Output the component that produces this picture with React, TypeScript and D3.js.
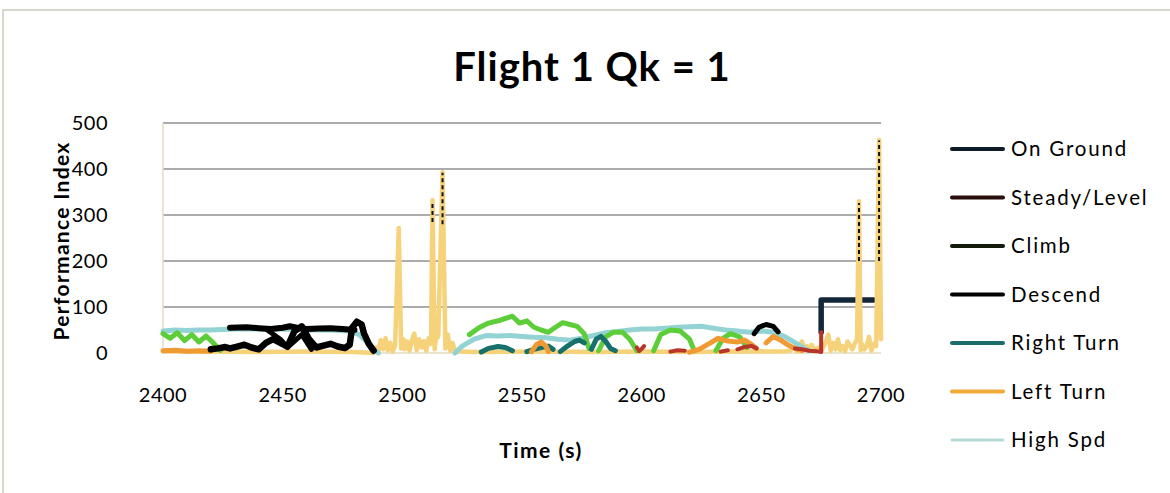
import React from "react";
import * as d3 from "d3";

const W = 1170, H = 493;
const title = "Flight 1 Qk = 1";
const xLabel = "Time (s)";
const yLabel = "Performance Index";
const xTicks = [2400, 2450, 2500, 2550, 2600, 2650, 2700];
const yTicks = [0, 100, 200, 300, 400, 500];

// Series data: times and values (null = gap)
const onGroundT = [2675, 2675, 2697];
const onGroundV = [45, 115, 115];

const steadyT = [2598, 2599, 2600, 2601, 2602, 2612, 2615, 2618, 2619, 2633, 2636, 2637, 2640, 2643, 2646, 2648, 2649, 2664, 2667, 2670, 2673, 2675, 2675];
const steadyV = [12, 4, 9, 15, null, 3, 6, 5, null, 3, 6, null, 8, 13, 15, 10, null, 10, 8, 5, 4, 2, 45];

const climbT = [2400, 2403, 2406, 2409, 2412, 2415, 2418, 2421, 2424, 2426,
  2528, 2532, 2536, 2540, 2543, 2546, 2549, 2552, 2555, 2558, 2561, 2564, 2567, 2570, 2573, 2576, 2578, 2579,
  2582, 2585, 2588, 2592, 2595, 2598, 2599,
  2605, 2608, 2612, 2616, 2620, 2622, 2623,
  2631, 2634, 2637, 2641, 2644, 2646];
const climbV = [42, 32, 44, 27, 40, 24, 37, 22, 6, null,
  40, 55, 65, 70, 75, 80, 65, 70, 56, 50, 45, 56, 66, 62, 58, 42, 10, null,
  5, 35, 45, 45, 30, 5, null,
  5, 40, 50, 48, 30, 5, null,
  5, 32, 42, 35, 12, null];

const descendLowT = [2420, 2423, 2426, 2428, 2431, 2434, 2437, 2440, 2443, 2446, 2449, 2452, 2455, 2458, 2461, 2464, 2467, 2470, 2473, 2476, 2478, 2479, 2481, 2483, 2484, 2486, 2488];
const descendLowV = [8, 10, 13, 10, 14, 18, 12, 8, 22, 30, 22, 14, 48, 58, 30, 12, 16, 20, 14, 11, 18, 55, 68, 62, 42, 20, 5];
const descendHighT = [2428, 2435, 2440, 2445, 2450, 2453, 2456, 2460, 2465, 2470, 2475, 2480];
const descendHighV = [55, 56, 54, 52, 55, 58, 55, 52, 53, 54, 52, 50];
const descendCrossT = [2443, 2449, 2452, 2458, 2462];
const descendCrossV = [52, 30, 12, 40, 8];
const descendLateT = [2647, 2649, 2652, 2655, 2657];
const descendLateV = [42, 56, 62, 58, 46];
const descendSpikeT = [2512.6, 2512.6, 2513, 2516.8, 2516.8, 2517, 2690.8, 2690.8, 2691, 2699.2, 2699.2];
const descendSpikeV = [285, 330, null, 280, 392, null, 200, 326, null, 200, 462];

const rightT = [2533, 2536, 2540, 2543, 2546, 2547, 2552, 2555, 2558, 2561, 2563, 2564, 2566, 2569, 2572, 2574, 2576, 2577, 2579, 2581, 2583, 2585, 2587, 2589];
const rightV = [2, 10, 14, 12, 5, null, 3, 8, 12, 15, 8, null, 3, 15, 25, 28, 22, null, 8, 30, 36, 25, 10, 5];

const leftT = [2400, 2405, 2410, 2415, 2420, 2421, 2554, 2556, 2558, 2560, 2561, 2562,
  2620, 2624, 2628, 2632, 2636, 2640, 2643, 2646, 2648, 2649,
  2652, 2655, 2658, 2661, 2664, 2667];
const leftV = [5, 6, 4, 5, 4, null, 3, 18, 24, 15, 3, null,
  2, 8, 20, 32, 26, 24, 28, 18, 10, null,
  22, 36, 28, 18, 10, 5];

const highSpdT = [2400, 2405, 2410, 2415, 2420, 2425, 2430, 2440, 2450, 2460, 2470, 2478, 2482, 2485, 2488, 2490, 2491,
  2522, 2525, 2530, 2535, 2540, 2545, 2550, 2555, 2560, 2565, 2570, 2575, 2580, 2585, 2590, 2595, 2600, 2605, 2610, 2615, 2620, 2625, 2630, 2635, 2640, 2645, 2650, 2655, 2660, 2665, 2668, 2670];
const highSpdV = [48, 50, 49, 50, 50, 51, 52, 52, 52, 50, 50, 48, 40, 25, 8, 0, null,
  0, 15, 30, 38, 37, 38, 36, 34, 33, 30, 28, 32, 38, 44, 47, 50, 52, 52, 54, 56, 57, 58, 54, 50, 48, 45, 48, 45, 35, 20, 10, 5];

// unlabelled light yellow series (spikes)
const otherT = [2400, 2420, 2440, 2460, 2480, 2488, 2489, 2490, 2491, 2492, 2493, 2494, 2495, 2496, 2497, 2498.5, 2499.5, 2500.5, 2501, 2502, 2503, 2504, 2505, 2506, 2507, 2508, 2509, 2510, 2511, 2512, 2512.6, 2513.5, 2514, 2515, 2516.8, 2518, 2519, 2520, 2521, 2522,
  2530, 2560, 2580, 2600, 2620, 2640, 2660, 2662, 2664, 2665, 2666, 2667, 2668, 2669, 2670, 2671, 2672, 2674, 2675, 2677, 2678, 2679, 2680, 2681, 2682, 2683, 2684, 2685, 2686, 2688, 2689, 2690, 2690.8, 2691.5, 2692, 2693, 2694, 2695, 2696, 2697, 2698, 2699.2, 2700];
const otherV = [4, 3, 2, 3, 2, 0, 12, 5, 28, 8, 32, 6, 22, 3, 18, 272, 10, 30, 8, 25, 5, 28, 42, 6, 30, 12, 26, 5, 32, 20, 332, 8, 30, 36, 393, 10, 40, 5, 22, 4,
  2, 3, 2, 3, 2, 3, 4, 5, 12, 3, 18, 25, 6, 15, 5, 18, 8, 12, 4, 25, 40, 5, 22, 8, 30, 6, 15, 4, 25, 8, 20, 30, 330, 6, 20, 8, 15, 35, 5, 20, 15, 463, 30];

const legendNames = ["On Ground", "Steady/Level", "Climb", "Descend", "Right Turn", "Left Turn", "High Spd"];
const legendColors = ["#0e1a26", "#2a0e0c", "#121a0a", "#000000", "#1d6e6a", "#f0aa3a", "#b5dcd6"];

const x = d3.scaleLinear().domain([2400, 2700]).range([163, 881]);
const y = d3.scaleLinear().domain([0, 500]).range([353, 123]);

function path(ts: number[], vs: (number | null)[]) {
  const pts = ts.map((t, i) => [t, vs[i]] as [number, number | null]);
  return d3.line<[number, number | null]>()
    .defined(d => d[1] !== null)
    .x(d => x(d[0]))
    .y(d => y(d[1] as number))(pts) || "";
}

const font = "Lato, 'Open Sans', sans-serif";

export default function App() {
  const series = [
    { t: onGroundT, v: onGroundV, c: "#14263a", w: 5.5 },
    { t: otherT, v: otherV, c: "#f6d27a", w: 4.5 },
    { t: highSpdT, v: highSpdV, c: "#93d3d3", w: 5 },
    { t: climbT, v: climbV, c: "#5dce3a", w: 5 },
    { t: rightT, v: rightV, c: "#17706c", w: 5 },
    { t: leftT, v: leftV, c: "#f09a34", w: 5 },
    { t: steadyT, v: steadyV, c: "#b8352a", w: 4 },
    { t: descendLowT, v: descendLowV, c: "#000", w: 6.5 },
    { t: descendHighT, v: descendHighV, c: "#000", w: 6 },
    { t: descendCrossT, v: descendCrossV, c: "#000", w: 5 },
    { t: descendLateT, v: descendLateV, c: "#000", w: 5 },
  ];
  return (
    <svg width={W} height={H} style={{ position: "absolute", left: 0, top: 0, background: "#fff" }}>
      <rect x={3} y={10} width={1200} height={520} fill="#fff" stroke="#c9c9bf" strokeWidth={1.5} />
      <text x={592} y={81} textAnchor="middle" fontFamily={font} fontWeight={700} fontSize={40} letterSpacing={1}>{title}</text>
      {yTicks.slice(1).map(t => (
        <line key={t} x1={163} x2={881} y1={y(t)} y2={y(t)} stroke="#5a5a5a" strokeWidth={1.2} />
      ))}
      <line x1={163} x2={163} y1={123} y2={353} stroke="#e2dcc0" strokeWidth={1.5} />
      <line x1={163} x2={881} y1={353} y2={353} stroke="#e2dcc0" strokeWidth={1.5} />
      {yTicks.map(t => (
        <text key={t} x={108} y={y(t) + 7} textAnchor="end" fontFamily={font} fontSize={20} letterSpacing={0.5}>{t}</text>
      ))}
      {xTicks.map(t => (
        <text key={t} x={x(t)} y={402} textAnchor="middle" fontFamily={font} fontSize={20} letterSpacing={0.5}>{t}</text>
      ))}
      <text x={541} y={458} textAnchor="middle" fontFamily={font} fontWeight={700} fontSize={21} letterSpacing={1.5}>{xLabel}</text>
      <text transform="translate(69,241) rotate(-90)" textAnchor="middle" fontFamily={font} fontWeight={700} fontSize={21} letterSpacing={1.3}>{yLabel}</text>
      <g strokeLinejoin="round" strokeLinecap="round" fill="none">
        {series.map((s, i) => (
          <path key={i} d={path(s.t, s.v)} stroke={s.c} strokeWidth={s.w} />
        ))}
        <path d={path(descendSpikeT, descendSpikeV)} stroke="#111" strokeWidth={2} strokeDasharray="4 3" strokeLinecap="butt" />
      </g>
      {legendNames.map((n, i) => {
        const ly = 149 + i * 48.5;
        return (
          <g key={n}>
            <line x1={952} x2={1003} y1={ly} y2={ly} stroke={legendColors[i]} strokeWidth={i === 6 ? 3 : 4} strokeLinecap="round" />
            <text x={1011} y={ly + 7} fontFamily={font} fontSize={20.5} letterSpacing={1.8}>{n}</text>
          </g>
        );
      })}
    </svg>
  );
}
